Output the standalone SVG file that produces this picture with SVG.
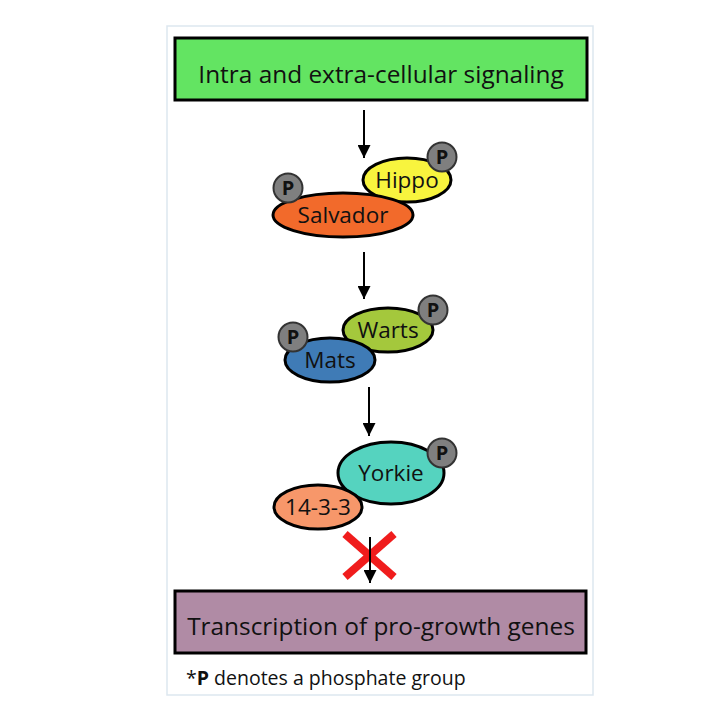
<svg xmlns="http://www.w3.org/2000/svg" width="720" height="720" viewBox="0 0 720 720">
<defs>
<marker id="ah" viewBox="0 0 10 10" refX="10" refY="5" markerWidth="13" markerHeight="13" markerUnits="userSpaceOnUse" orient="auto">
<path d="M0,0 L10,5 L0,10 z" fill="#000"/>
</marker>
<style>
.t{font-family:"Open Sans","Liberation Sans",sans-serif;fill:#111;text-anchor:middle}
.box{stroke:#000;stroke-width:3}
.ell{stroke:#000;stroke-width:3}
.p{fill:#7f7f7f;stroke:#333;stroke-width:2}
.pt{font-family:"Open Sans","Liberation Sans",sans-serif;font-weight:bold;font-size:20px;fill:#111;text-anchor:middle}
.con{stroke:#000;stroke-width:2;fill:none}
</style>
</defs>
<rect width="720" height="720" fill="#fff"/>
<rect x="167" y="26" width="426" height="669" fill="#fff" stroke="#dde7ef" stroke-width="1.5"/>
<g id="signaling">
<rect class="box" x="175" y="38" width="412" height="62" fill="#63e462"/>
<text class="t" x="381" y="83" font-size="24.4">Intra and extra-cellular signaling</text>
</g>
<g id="connectors">
<line class="con" x1="364" y1="110" x2="364" y2="158" marker-end="url(#ah)"/>
<line class="con" x1="364" y1="252" x2="364" y2="299" marker-end="url(#ah)"/>
<line class="con" x1="369" y1="387" x2="369" y2="436" marker-end="url(#ah)"/>
</g>
<g id="hippo">
<ellipse class="ell" cx="407" cy="180" rx="44" ry="22" fill="#f8f43e"/>
<text class="t" x="407" y="188" font-size="22.5">Hippo</text>
</g>
<g id="salvador">
<ellipse class="ell" cx="343" cy="215" rx="70" ry="22" fill="#f26a2b"/>
<text class="t" x="343" y="223" font-size="22.5">Salvador</text>
</g>
<g id="hippo-p"><circle class="p" cx="442" cy="157" r="14.5"/><text class="pt" x="442" y="164">P</text></g>
<g id="salvador-p"><circle class="p" cx="288" cy="188" r="14.5"/><text class="pt" x="288" y="195">P</text></g>
<g id="warts">
<ellipse class="ell" cx="388" cy="330" rx="45" ry="22" fill="#a4c83c"/>
<text class="t" x="388" y="338" font-size="22.5">Warts</text>
</g>
<g id="mats">
<ellipse class="ell" cx="330" cy="360" rx="45" ry="22" fill="#3f7bb6"/>
<text class="t" x="330" y="368" font-size="22.5">Mats</text>
</g>
<g id="warts-p"><circle class="p" cx="433" cy="310" r="14.5"/><text class="pt" x="433" y="317">P</text></g>
<g id="mats-p"><circle class="p" cx="293" cy="337" r="14.5"/><text class="pt" x="293" y="344">P</text></g>
<g id="yorkie">
<ellipse class="ell" cx="391" cy="473" rx="53" ry="31" fill="#55d3bf"/>
<text class="t" x="391" y="481" font-size="22.5">Yorkie</text>
</g>
<g id="p14-3-3">
<ellipse class="ell" cx="318" cy="507" rx="44" ry="22" fill="#f7976a"/>
<text class="t" x="318" y="515" font-size="22.5">14-3-3</text>
</g>
<g id="yorkie-p"><circle class="p" cx="442" cy="453" r="14.5"/><text class="pt" x="442" y="460">P</text></g>
<g id="block">
<line x1="345" y1="534" x2="394" y2="577" stroke="#f01c1c" stroke-width="8"/>
<line x1="394" y1="534" x2="345" y2="577" stroke="#f01c1c" stroke-width="8"/>
<line class="con" x1="370" y1="537" x2="370" y2="583" marker-end="url(#ah)"/>
</g>
<g id="transcription">
<rect class="box" x="175" y="591" width="411" height="62" fill="#b08ba5"/>
<text class="t" x="381" y="635" font-size="24.4">Transcription of pro-growth genes</text>
</g>
<text x="186" y="685" font-family="'Open Sans','Liberation Sans',sans-serif" font-size="19.5" fill="#111">*<tspan font-weight="bold">P</tspan> denotes a phosphate group</text>
</svg>
